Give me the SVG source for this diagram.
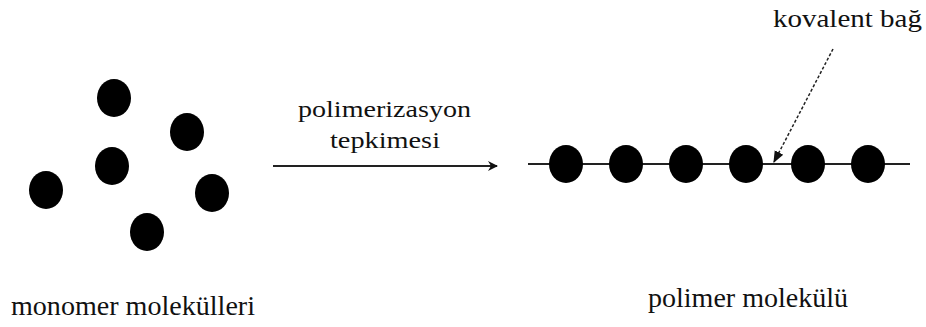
<svg xmlns="http://www.w3.org/2000/svg" xmlns:xlink="http://www.w3.org/1999/xlink" width="926" height="327" viewBox="0 0 926 327">
<defs>
<ellipse id="atom" cx="0" cy="0" rx="17" ry="19" fill="#000"/>
<marker id="ah" viewBox="0 0 10 10" refX="9" refY="5" markerWidth="5" markerHeight="5" orient="auto" markerUnits="strokeWidth">
<path d="M0,0 L10,5 L0,10 L3,5 Z" fill="#111"/>
</marker>
<marker id="ah2" viewBox="0 0 10 10" refX="9" refY="5" markerWidth="8" markerHeight="8" orient="auto" markerUnits="strokeWidth">
<path d="M0,1 L10,5 L0,9 Z" fill="#111"/>
</marker>
</defs>
<rect width="926" height="327" fill="#fff"/>
<g font-family="Liberation Serif, serif" fill="#111">
<g id="monomers">
<use href="#atom" xlink:href="#atom" x="114" y="98"/>
<use href="#atom" xlink:href="#atom" x="187" y="132"/>
<use href="#atom" xlink:href="#atom" x="112" y="166"/>
<use href="#atom" xlink:href="#atom" x="46" y="190"/>
<use href="#atom" xlink:href="#atom" x="212" y="193"/>
<use href="#atom" xlink:href="#atom" x="147" y="232"/>
<text x="11" y="315" font-size="28" textLength="244" lengthAdjust="spacingAndGlyphs">monomer molekülleri</text>
</g>
<g id="connectors" fill="none">
<line x1="273" y1="166" x2="497" y2="166" stroke="#222" stroke-width="2" marker-end="url(#ah)"/>
<line x1="833" y1="49" x2="774" y2="162" stroke="#222" stroke-width="1.5" stroke-dasharray="3,2" marker-end="url(#ah2)"/>
</g>
<g id="reaction">
<text x="298" y="117" font-size="24" textLength="173" lengthAdjust="spacingAndGlyphs">polimerizasyon</text>
<text x="330" y="148" font-size="24" textLength="110" lengthAdjust="spacingAndGlyphs">tepkimesi</text>
</g>
<g id="polymer">
<line x1="528" y1="164" x2="910" y2="164" stroke="#222" stroke-width="2"/>
<use href="#atom" xlink:href="#atom" x="566" y="164"/>
<use href="#atom" xlink:href="#atom" x="626" y="164"/>
<use href="#atom" xlink:href="#atom" x="686" y="164"/>
<use href="#atom" xlink:href="#atom" x="746" y="164"/>
<use href="#atom" xlink:href="#atom" x="808" y="164"/>
<use href="#atom" xlink:href="#atom" x="868" y="164"/>
<text x="648" y="307" font-size="28" textLength="200" lengthAdjust="spacingAndGlyphs">polimer molekülü</text>
</g>
<g id="bond-label">
<text x="773" y="27" font-size="26" textLength="149" lengthAdjust="spacingAndGlyphs">kovalent bağ</text>
</g>
</g>
</svg>
